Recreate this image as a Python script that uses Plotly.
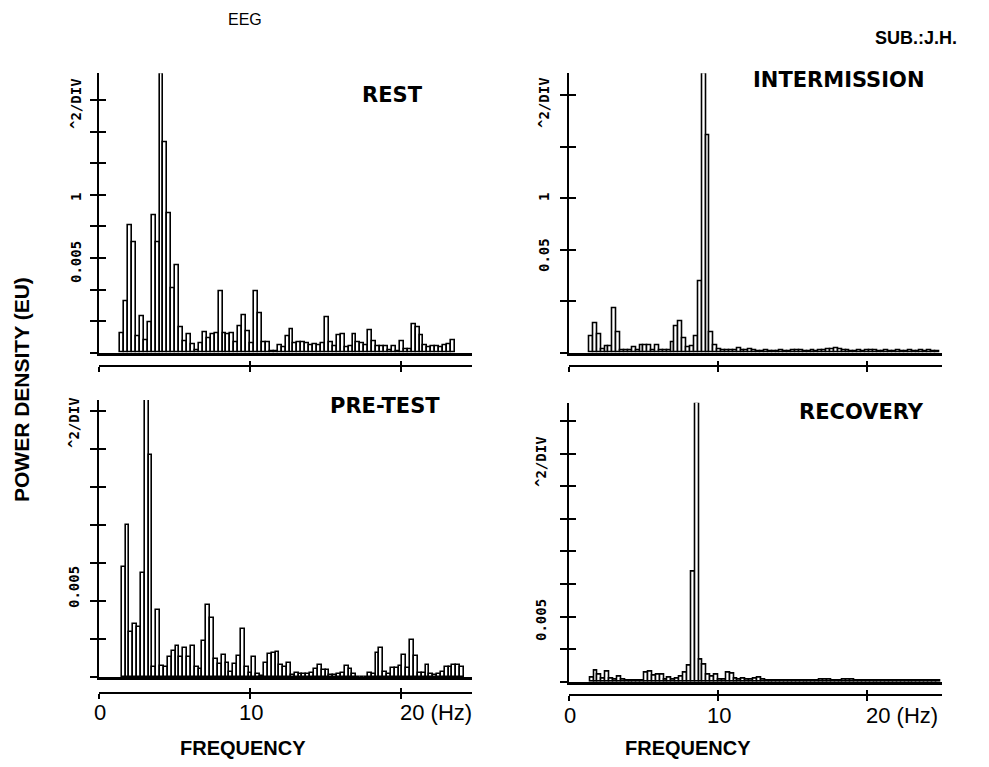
import plotly.graph_objects as go

W, H = 989, 767
M = 8  # browser body margin

# ---- data (power density in units of one y-division, per ~0.26 Hz bin) ----
rest = [0.61, 1.64, 4.03, 3.51, 0.53, 1.16, 0.40, 0.97, 4.35, 3.51,
        8.84, 6.68, 4.40, 2.03, 2.76, 0.82, 0.35, 0.58, 0.27, 0.08,
        0.29, 0.66, 0.47, 0.59, 0.63, 1.96, 0.63, 0.59, 0.61, 0.32,
        0.85, 1.17, 0.69, 0.29, 1.95, 1.24, 0.32, 0.32, 0.06, 0.06,
        0.24, 0.17, 0.53, 0.75, 0.29, 0.34, 0.32, 0.29, 0.24, 0.27,
        0.23, 0.29, 1.11, 0.32, 0.21, 0.55, 0.58, 0.17, 0.21, 0.58,
        0.32, 0.29, 0.24, 0.72, 0.35, 0.19, 0.19, 0.19, 0.08, 0.19,
        0.06, 0.35, 0.10, 0.10, 0.89, 0.82, 0.55, 0.24, 0.17, 0.19,
        0.21, 0.17, 0.24, 0.27, 0.40]

pretest = [2.89, 4.00, 1.18, 1.39, 1.31, 2.73, 7.28, 5.84, 0.28, 1.77,
           0.30, 0.28, 0.54, 0.70, 0.82, 0.54, 0.76, 0.54, 0.82, 0.26,
           0.23, 0.96, 1.90, 1.55, 0.47, 0.35, 0.59, 0.38, 0.15, 0.35,
           0.57, 1.28, 0.26, 0.12, 0.54, 0.10, 0.03, 0.38, 0.61, 0.65,
           0.66, 0.32, 0.26, 0.38, 0.06, 0.12, 0.09, 0.09, 0.09, 0.12,
           0.21, 0.32, 0.19, 0.19, 0.06, 0.05, 0.10, 0.12, 0.31, 0.21,
           0.09, 0.02, 0.02, 0.02, 0.12, 0.09, 0.65, 0.78, 0.15, 0.10,
           0.24, 0.24, 0.30, 0.59, 0.25, 0.98, 0.56, 0.12, 0.12, 0.32,
           0.09, 0.06, 0.10, 0.15, 0.28, 0.28, 0.32, 0.32, 0.28]

intermission = [0.31, 0.57, 0.36, 0.06, 0.12, 0.13, 0.87, 0.39, 0.05, 0.05,
                0.04, 0.10, 0.05, 0.14, 0.15, 0.15, 0.05, 0.14, 0.05, 0.04,
                0.04, 0.21, 0.52, 0.60, 0.28, 0.10, 0.13, 0.32, 1.39, 5.42,
                4.21, 0.39, 0.15, 0.06, 0.05, 0.04, 0.04, 0.04, 0.09, 0.04,
                0.04, 0.07, 0.04, 0.03, 0.03, 0.04, 0.03, 0.03, 0.03, 0.04,
                0.03, 0.03, 0.04, 0.05, 0.04, 0.03, 0.03, 0.04, 0.03, 0.04,
                0.05, 0.07, 0.06, 0.08, 0.07, 0.05, 0.04, 0.03, 0.03, 0.04,
                0.03, 0.04, 0.05, 0.04, 0.03, 0.03, 0.04, 0.03, 0.03, 0.04,
                0.03, 0.03, 0.04, 0.03, 0.03, 0.04, 0.03, 0.04, 0.03, 0.03]

recovery = [0.13, 0.33, 0.23, 0.09, 0.31, 0.09, 0.05, 0.15, 0.05, 0.03,
            0.03, 0.02, 0.02, 0.03, 0.28, 0.30, 0.19, 0.23, 0.20, 0.07,
            0.12, 0.07, 0.10, 0.15, 0.29, 0.48, 3.37, 8.55, 0.68, 0.51,
            0.20, 0.15, 0.20, 0.07, 0.05, 0.29, 0.26, 0.09, 0.07, 0.10,
            0.07, 0.05, 0.09, 0.12, 0.07, 0.04, 0.03, 0.03, 0.04, 0.03,
            0.03, 0.03, 0.04, 0.03, 0.03, 0.03, 0.04, 0.03, 0.03, 0.06,
            0.06, 0.05, 0.04, 0.03, 0.04, 0.05, 0.06, 0.05, 0.04, 0.03,
            0.03, 0.04, 0.03, 0.03, 0.03, 0.04, 0.03, 0.03, 0.03, 0.03,
            0.04, 0.03, 0.03, 0.03, 0.03, 0.02, 0.03, 0.03, 0.03, 0.03]

panel_titles = ["REST", "INTERMISSION", "PRE-TEST", "RECOVERY"]
freq_ticks = [0, 10, 20]
freq_ticktext = ["0", "10", "20 (Hz)"]

# ---- layout helpers (page pixel -> paper) ----
FW, FH = W - 2 * M, H - 2 * M

def px(x):
    return (x - M) / FW

def py(y):
    return 1 - (y - M) / FH

SANS = "Liberation Sans, Arial, sans-serif"
WIDE = "DejaVu Sans, Verdana, sans-serif"
MONO = "DejaVu Sans Mono, Liberation Mono, monospace"

panels = [
    dict(vals=rest, f0=1.53, df=0.2612, xmax=24.73, xpix=(99, 472),
         base=352.7, top=73.3, ymax=8.85, ntick=8, axis_y=366, labels=False,
         title=(392, 95)),
    dict(vals=intermission, f0=1.47, df=0.2610, xmax=25.0, xpix=(569.3, 941.7),
         base=352.7, top=73.3, ymax=5.42, ntick=5, axis_y=366, labels=False,
         title=(839, 80)),
    dict(vals=pretest, f0=1.63, df=0.2550, xmax=24.73, xpix=(99, 472),
         base=677.3, top=400.0, ymax=7.29, ntick=7, axis_y=692.7, labels=True,
         title=(385, 406)),
    dict(vals=recovery, f0=1.52, df=0.2610, xmax=25.0, xpix=(569.3, 941.7),
         base=681.7, top=402.7, ymax=8.56, ntick=8, axis_y=695.0, labels=True,
         title=(861, 412)),
]

fig = go.Figure()
layout = dict(
    width=FW, height=FH, margin=dict(l=0, r=0, t=0, b=0),
    paper_bgcolor="white", plot_bgcolor="rgba(0,0,0,0)",
    showlegend=False, bargap=0,
)
ann = []

def text(x, y, s, size, family=SANS, angle=0, xanchor="center"):
    ann.append(dict(x=px(x), y=py(y), xref="paper", yref="paper", text=s,
                    showarrow=False, textangle=angle, xanchor=xanchor,
                    yanchor="middle",
                    font=dict(family=family, size=size, color="black")))

for i, p in enumerate(panels, start=1):
    n = len(p["vals"])
    freqs = [p["f0"] + k * p["df"] for k in range(n)]
    xa, ya = f"x{i}", f"y{i}"
    yin = f"y{i + 4}"
    xbo, xbi = f"x{i + 4}", f"x{i + 8}"
    xdom = [px(p["xpix"][0]), px(p["xpix"][1])]
    ydom = [py(p["base"]), py(p["top"])]
    yt = list(range(0, p["ntick"] + 1))

    fig.add_trace(go.Bar(
        x=freqs, y=p["vals"], width=p["df"], xaxis=xa, yaxis=ya,
        marker=dict(color="white", line=dict(color="black", width=1.6)),
        hoverinfo="skip",
    ))
    fig.add_trace(go.Scatter(x=[None], y=[None], xaxis=xa, yaxis=yin, showlegend=False))
    fig.add_trace(go.Scatter(x=[None], y=[None], xaxis=xbo, yaxis=ya, showlegend=False))
    fig.add_trace(go.Scatter(x=[None], y=[None], xaxis=xbi, yaxis=ya, showlegend=False))

    sfx = "" if i == 1 else str(i)
    layout[f"xaxis{sfx}"] = dict(
        domain=xdom, range=[0, p["xmax"]], anchor=ya, showline=True,
        linecolor="black", linewidth=2.5, showgrid=False, zeroline=False,
        ticks="", showticklabels=False, fixedrange=True,
    )
    layout[f"yaxis{sfx}"] = dict(
        domain=ydom, range=[0, p["ymax"]], anchor=xa, showline=True,
        linecolor="black", linewidth=2, showgrid=False, zeroline=False,
        tickvals=yt, ticks="outside", ticklen=7, tickwidth=1.6,
        tickcolor="black", showticklabels=False, fixedrange=True,
    )
    layout[f"yaxis{i + 4}"] = dict(
        overlaying=ya, anchor=xa, side="left", range=[0, p["ymax"]],
        showline=False, showgrid=False, zeroline=False, tickvals=yt,
        ticks="inside", ticklen=7, tickwidth=1.6, tickcolor="black",
        showticklabels=False, fixedrange=True,
    )
    layout[f"xaxis{i + 4}"] = dict(
        overlaying=xa, anchor="free", position=py(p["axis_y"]),
        range=[0, p["xmax"]], showline=True, linecolor="black", linewidth=2,
        showgrid=False, zeroline=False, tickvals=freq_ticks,
        ticks="outside", ticklen=5, tickwidth=1.6,
        tickcolor="black", showticklabels=False, fixedrange=True,
    )
    layout[f"xaxis{i + 8}"] = dict(
        overlaying=xa, anchor="free", position=py(p["axis_y"]),
        range=[0, p["xmax"]], showline=False, showgrid=False, zeroline=False,
        tickvals=freq_ticks, ticks="inside", ticklen=5, tickwidth=1.6,
        tickcolor="black", showticklabels=False, fixedrange=True,
    )

    # frequency tick labels on the bottom row
    if p["labels"]:
        scale = (p["xpix"][1] - p["xpix"][0]) / p["xmax"]
        for v, t in zip(freq_ticks, freq_ticktext):
            xp = p["xpix"][0] + v * scale
            if "(" in t:
                text(xp - 3, p["axis_y"] + 20, t, 22, xanchor="left")
            else:
                text(xp + 1, p["axis_y"] + 20, t, 22)

    # panel title
    text(p["title"][0], p["title"][1], f"<b>{panel_titles[i - 1]}</b>", 21, WIDE)

fig.update_layout(**layout)

# header
text(245, 20, "EEG", 16)
text(916, 38, "<b>SUB.:J.H.</b>", 18)
# axis titles
text(21, 390, "<b>POWER DENSITY (EU)</b>", 21, SANS, angle=-90)
text(243, 748, "<b>FREQUENCY</b>", 20)
text(688, 748, "<b>FREQUENCY</b>", 20)
# vertical scale texts
MB = lambda s: f"<b>{s}</b>"
text(76, 104, MB("^2/DIV"), 14, MONO, angle=-90)
text(76, 197, MB("1"), 14, MONO, angle=-90)
text(76, 262, MB("0.005"), 14, MONO, angle=-90)
text(544, 103, MB("^2/DIV"), 14, MONO, angle=-90)
text(544, 197, MB("1"), 14, MONO, angle=-90)
text(544, 255, MB("0.05"), 14, MONO, angle=-90)
text(74, 423, MB("^2/DIV"), 14, MONO, angle=-90)
text(74, 587, MB("0.005"), 14, MONO, angle=-90)
text(541, 462, MB("^2/DIV"), 14, MONO, angle=-90)
text(541, 620, MB("0.005"), 14, MONO, angle=-90)

fig.update_layout(annotations=ann)
fig.write_html("out.html")
